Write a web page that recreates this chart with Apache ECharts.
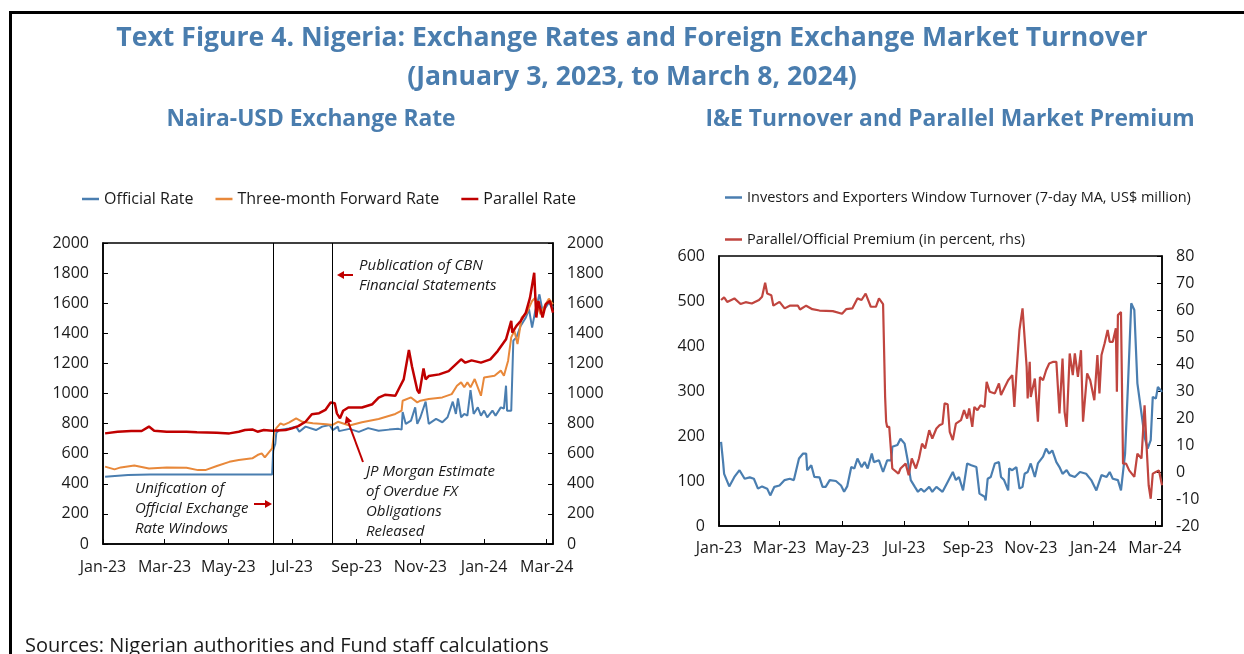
<!DOCTYPE html>
<html>
<head>
<meta charset="utf-8">
<style>
  html, body { margin: 0; padding: 0; background: #fff; }
  #chart { width: 1244px; height: 654px; }
</style>
<script src="https://cdn.jsdelivr.net/npm/echarts@6.0.0/dist/echarts.min.js"></script>
</head>
<body>
<div id="chart"></div>
<script>
// ---- data (date, value) ----
var officialRate = [
  ['2023-01-03', 447], ['2023-01-25', 458], ['2023-02-15', 461], ['2023-06-12', 462], ['2023-06-13', 620],
  ['2023-06-14', 645], ['2023-06-15', 665], ['2023-06-16', 740], ['2023-06-19', 757], ['2023-06-20', 757],
  ['2023-06-28', 768], ['2023-07-05', 780], ['2023-07-08', 746], ['2023-07-14', 780], ['2023-07-24', 757],
  ['2023-07-30', 780], ['2023-08-06', 791], ['2023-08-09', 757], ['2023-08-14', 780], ['2023-08-15', 750],
  ['2023-08-25', 765], ['2023-09-03', 745], ['2023-09-12', 770], ['2023-09-22', 752], ['2023-10-02', 760],
  ['2023-10-11', 765], ['2023-10-14', 760], ['2023-10-15', 877], ['2023-10-18', 798], ['2023-10-23', 820],
  ['2023-10-27', 908], ['2023-10-29', 798], ['2023-11-01', 842], ['2023-11-06', 946], ['2023-11-09', 798],
  ['2023-11-16', 831], ['2023-11-22', 809], ['2023-11-27', 842], ['2023-12-02', 946], ['2023-12-05', 864],
  ['2023-12-07', 968], ['2023-12-10', 842], ['2023-12-13', 864], ['2023-12-16', 853], ['2023-12-19', 1023],
  ['2023-12-22', 864], ['2023-12-26', 908], ['2023-12-29', 853], ['2024-01-01', 886], ['2024-01-04', 842],
  ['2024-01-09', 886], ['2024-01-12', 853], ['2024-01-17', 908], ['2024-01-20', 900], ['2024-01-22', 1052],
  ['2024-01-23', 886], ['2024-01-27', 886], ['2024-01-29', 1351], ['2024-02-01', 1373], ['2024-02-05', 1449],
  ['2024-02-10', 1505], ['2024-02-13', 1560], ['2024-02-16', 1438], ['2024-02-19', 1549], ['2024-02-23', 1659],
  ['2024-02-26', 1549], ['2024-02-29', 1571], ['2024-03-03', 1604], ['2024-03-07', 1571]
];
var forwardRate = [
  ['2023-01-03', 514], ['2023-01-12', 496], ['2023-01-18', 509], ['2023-01-31', 522], ['2023-02-14', 502],
  ['2023-03-03', 509], ['2023-03-22', 507], ['2023-04-02', 491], ['2023-04-09', 491], ['2023-04-20', 518],
  ['2023-05-02', 546], ['2023-05-11', 558], ['2023-05-24', 569], ['2023-05-29', 591], ['2023-06-02', 602],
  ['2023-06-05', 575], ['2023-06-12', 635], ['2023-06-14', 745], ['2023-06-16', 770], ['2023-06-20', 802],
  ['2023-06-23', 791], ['2023-06-28', 806], ['2023-07-05', 835], ['2023-07-11', 812], ['2023-07-21', 802],
  ['2023-08-03', 795], ['2023-08-09', 791], ['2023-08-14', 812], ['2023-08-25', 787], ['2023-09-06', 809],
  ['2023-09-22', 831], ['2023-10-08', 864], ['2023-10-14', 886], ['2023-10-15', 952], ['2023-10-23', 974],
  ['2023-10-29', 941], ['2023-11-01', 952], ['2023-11-09', 963], ['2023-11-22', 974], ['2023-12-01', 996],
  ['2023-12-06', 1052], ['2023-12-10', 1074], ['2023-12-13', 1041], ['2023-12-16', 1074], ['2023-12-19', 1041],
  ['2023-12-23', 1096], ['2023-12-29', 985], ['2024-01-01', 1107], ['2024-01-11', 1118], ['2024-01-17', 1152],
  ['2024-01-20', 1118], ['2024-01-24', 1218], ['2024-01-27', 1373], ['2024-01-30', 1417], ['2024-02-02', 1329],
  ['2024-02-06', 1505], ['2024-02-11', 1537], ['2024-02-16', 1615], ['2024-02-19', 1637], ['2024-02-24', 1527],
  ['2024-02-28', 1582], ['2024-03-03', 1630], ['2024-03-07', 1593]
];
var parallelRate = [
  ['2023-01-03', 735], ['2023-01-15', 746], ['2023-01-28', 751], ['2023-02-07', 751], ['2023-02-14', 780],
  ['2023-02-19', 753], ['2023-03-03', 746], ['2023-03-22', 746], ['2023-04-01', 742], ['2023-04-20', 740],
  ['2023-05-02', 735], ['2023-05-11', 746], ['2023-05-17', 757], ['2023-05-24', 761], ['2023-05-29', 746],
  ['2023-06-04', 757], ['2023-06-12', 753], ['2023-06-25', 757], ['2023-07-01', 768], ['2023-07-07', 783],
  ['2023-07-14', 812], ['2023-07-20', 862], ['2023-07-27', 869], ['2023-08-02', 891], ['2023-08-07', 940],
  ['2023-08-11', 935], ['2023-08-13', 868], ['2023-08-16', 835], ['2023-08-19', 885], ['2023-08-24', 907],
  ['2023-09-06', 907], ['2023-09-16', 929], ['2023-09-22', 973], ['2023-09-28', 991], ['2023-10-08', 985],
  ['2023-10-12', 1040], ['2023-10-16', 1094], ['2023-10-21', 1289], ['2023-10-24', 1178], ['2023-10-29', 1023],
  ['2023-10-31', 1001], ['2023-11-04', 1167], ['2023-11-06', 1094], ['2023-11-09', 1116], ['2023-11-19', 1127],
  ['2023-11-28', 1149], ['2023-12-10', 1227], ['2023-12-14', 1205], ['2023-12-20', 1220], ['2023-12-29', 1205],
  ['2024-01-07', 1227], ['2024-01-14', 1282], ['2024-01-22', 1360], ['2024-01-27', 1482], ['2024-01-28', 1404],
  ['2024-02-01', 1449], ['2024-02-05', 1482], ['2024-02-10', 1537], ['2024-02-14', 1637], ['2024-02-18', 1802],
  ['2024-02-20', 1505], ['2024-02-22', 1615], ['2024-02-26', 1505], ['2024-02-29', 1593], ['2024-03-04', 1615],
  ['2024-03-07', 1537]
];
var ieTurnover = [
  ['2023-01-03', 187], ['2023-01-05', 142], ['2023-01-06', 116], ['2023-01-11', 88], ['2023-01-16', 109],
  ['2023-01-21', 124], ['2023-01-26', 105], ['2023-01-31', 108], ['2023-02-04', 105], ['2023-02-08', 83],
  ['2023-02-12', 88], ['2023-02-17', 83], ['2023-02-20', 68], ['2023-02-24', 87], ['2023-03-01', 90],
  ['2023-03-06', 102], ['2023-03-11', 105], ['2023-03-15', 102], ['2023-03-20', 150], ['2023-03-24', 161],
  ['2023-03-27', 161], ['2023-03-28', 124], ['2023-04-01', 135], ['2023-04-04', 109], ['2023-04-09', 108],
  ['2023-04-12', 87], ['2023-04-15', 87], ['2023-04-19', 102], ['2023-04-25', 100], ['2023-04-30', 90],
  ['2023-05-03', 76], ['2023-05-06', 88], ['2023-05-10', 131], ['2023-05-13', 128], ['2023-05-16', 150],
  ['2023-05-20', 131], ['2023-05-23', 142], ['2023-05-26', 128], ['2023-05-30', 161], ['2023-06-01', 142],
  ['2023-06-06', 146], ['2023-06-10', 120], ['2023-06-14', 146], ['2023-06-18', 146], ['2023-06-19', 176],
  ['2023-06-24', 180], ['2023-06-27', 194], ['2023-07-01', 183], ['2023-07-04', 146], ['2023-07-07', 102],
  ['2023-07-11', 87], ['2023-07-14', 76], ['2023-07-17', 83], ['2023-07-20', 76], ['2023-07-25', 87],
  ['2023-07-28', 76], ['2023-08-01', 87], ['2023-08-07', 76], ['2023-08-12', 98], ['2023-08-17', 120],
  ['2023-08-20', 102], ['2023-08-23', 109], ['2023-08-27', 79], ['2023-08-31', 139], ['2023-09-04', 135],
  ['2023-09-09', 131], ['2023-09-12', 72], ['2023-09-17', 65], ['2023-09-18', 57], ['2023-09-20', 105],
  ['2023-09-23', 109], ['2023-09-27', 139], ['2023-10-01', 142], ['2023-10-03', 109], ['2023-10-06', 102],
  ['2023-10-10', 79], ['2023-10-11', 128], ['2023-10-14', 124], ['2023-10-18', 131], ['2023-10-21', 83],
  ['2023-10-24', 87], ['2023-10-26', 116], ['2023-10-29', 120], ['2023-11-01', 139], ['2023-11-05', 109],
  ['2023-11-08', 139], ['2023-11-13', 154], ['2023-11-16', 172], ['2023-11-19', 161], ['2023-11-22', 168],
  ['2023-11-26', 142], ['2023-11-29', 131], ['2023-12-02', 116], ['2023-12-06', 124], ['2023-12-09', 113],
  ['2023-12-14', 109], ['2023-12-19', 120], ['2023-12-25', 116], ['2023-12-30', 102], ['2024-01-04', 79],
  ['2024-01-09', 113], ['2024-01-14', 109], ['2024-01-17', 120], ['2024-01-20', 105], ['2024-01-25', 102],
  ['2024-01-28', 79], ['2024-02-01', 161], ['2024-02-04', 324], ['2024-02-07', 495], ['2024-02-10', 480],
  ['2024-02-13', 317], ['2024-02-17', 250], ['2024-02-20', 198], ['2024-02-23', 172], ['2024-02-26', 191],
  ['2024-02-28', 287], ['2024-03-02', 283], ['2024-03-04', 309], ['2024-03-08', 298]
];
var premium = [
  ['2023-01-03', 63.7], ['2023-01-06', 64.7], ['2023-01-09', 63.0], ['2023-01-16', 64.3], ['2023-01-22', 62.2],
  ['2023-01-27', 62.9], ['2023-02-02', 62.4], ['2023-02-09', 63.7], ['2023-02-12', 64.9], ['2023-02-15', 70.1],
  ['2023-02-17', 66.1], ['2023-02-21', 65.5], ['2023-02-23', 61.6], ['2023-03-01', 63.0], ['2023-03-06', 60.6],
  ['2023-03-11', 61.6], ['2023-03-19', 61.6], ['2023-03-21', 60.2], ['2023-03-27', 61.6], ['2023-04-02', 60.3],
  ['2023-04-09', 59.8], ['2023-04-22', 59.6], ['2023-05-01', 58.6], ['2023-05-05', 60.3], ['2023-05-11', 60.6],
  ['2023-05-16', 64.3], ['2023-05-20', 63.7], ['2023-05-24', 66.1], ['2023-05-29', 61.2], ['2023-06-03', 61.2],
  ['2023-06-06', 64.3], ['2023-06-10', 62.2], ['2023-06-12', 27.8], ['2023-06-13', 18.6], ['2023-06-14', 16.7],
  ['2023-06-16', 16.7], ['2023-06-19', 1.3], ['2023-06-25', -0.6], ['2023-06-27', 1.3], ['2023-07-02', 3.1],
  ['2023-07-05', -1.2], ['2023-07-08', 5.0], ['2023-07-12', 1.3], ['2023-07-15', 5.0], ['2023-07-18', 10.5],
  ['2023-07-21', 8.7], ['2023-07-25', 15.5], ['2023-07-28', 12.4], ['2023-08-01', 16.1], ['2023-08-04', 17.3],
  ['2023-08-07', 17.9], ['2023-08-09', 25.4], ['2023-08-12', 25.1], ['2023-08-14', 14.9], ['2023-08-17', 11.8],
  ['2023-08-20', 17.9], ['2023-08-25', 19.2], ['2023-08-28', 22.9], ['2023-08-31', 19.8], ['2023-09-02', 23.5],
  ['2023-09-05', 16.7], ['2023-09-07', 24.1], ['2023-09-10', 22.9], ['2023-09-13', 24.7], ['2023-09-17', 24.1],
  ['2023-09-19', 33.4], ['2023-09-22', 29.7], ['2023-09-27', 29.1], ['2023-10-01', 32.8], ['2023-10-03', 28.5],
  ['2023-10-06', 30.9], ['2023-10-10', 34.0], ['2023-10-14', 35.9], ['2023-10-16', 24.1], ['2023-10-18', 36.5],
  ['2023-10-21', 52.6], ['2023-10-24', 60.6], ['2023-10-28', 39.0], ['2023-10-29', 27.2], ['2023-10-31', 40.8],
  ['2023-11-01', 27.8], ['2023-11-05', 34.6], ['2023-11-08', 18.6], ['2023-11-10', 35.2], ['2023-11-13', 34.0],
  ['2023-11-16', 37.7], ['2023-11-19', 40.2], ['2023-11-23', 40.8], ['2023-11-26', 40.8], ['2023-11-29', 21.7],
  ['2023-12-02', 42.0], ['2023-12-04', 22.3], ['2023-12-06', 16.7], ['2023-12-09', 43.9], ['2023-12-12', 35.9],
  ['2023-12-14', 43.9], ['2023-12-17', 35.2], ['2023-12-20', 45.1], ['2023-12-22', 18.6], ['2023-12-26', 36.5],
  ['2023-12-29', 34.0], ['2024-01-02', 26.6], ['2024-01-05', 43.3], ['2024-01-07', 29.1], ['2024-01-09', 43.3],
  ['2024-01-12', 47.6], ['2024-01-15', 52.6], ['2024-01-17', 48.2], ['2024-01-20', 48.2], ['2024-01-23', 53.2],
  ['2024-01-24', 29.7], ['2024-01-25', 58.1], ['2024-01-28', 59.3], ['2024-01-30', 3.1], ['2024-02-02', 3.1],
  ['2024-02-05', 0.6], ['2024-02-10', -1.8], ['2024-02-13', 6.8], ['2024-02-17', 5.0], ['2024-02-20', 24.7],
  ['2024-02-22', 9.3], ['2024-02-24', -4.9], ['2024-02-26', -9.9], ['2024-02-28', -0.6], ['2024-03-02', 0.0],
  ['2024-03-05', 0.6], ['2024-03-08', -4.9]
];
var monthTicks = ['2023-01-01', '2023-03-01', '2023-05-01', '2023-07-01', '2023-09-01', '2023-11-01', '2024-01-01', '2024-03-01'];
var eventDates = ['2023-06-13', '2023-08-09'];

// ---- helpers ----
function ts(s) {
    var p = s.split('-');
    return new Date(+p[0], +p[1] - 1, +p[2]).getTime();
}
function toXY(arr) {
    return arr.map(function (p) { return [ts(p[0]), p[1]]; });
}
var MONS = ['Jan', 'Feb', 'Mar', 'Apr', 'May', 'Jun', 'Jul', 'Aug', 'Sep', 'Oct', 'Nov', 'Dec'];
function monthLabel(v) {
    var d = new Date(v);
    return MONS[d.getMonth()] + '-' + String(d.getFullYear()).slice(2);
}
var tickTs = monthTicks.map(ts);

var FONT = 'Open Sans';
var TITLE_COLOR = '#4A7DAE';
var TEXT = '#1a1a1a';
var RED_ARROW = '#C00000';

// dates are plotted on a value axis (ms timestamps) so ticks can sit on the 1st of every other month
function dateAxis(gridIndex, maxDate, margin) {
    return {
        type: 'value', gridIndex: gridIndex,
        min: ts('2023-01-01'), max: ts(maxDate),
        axisLine: { show: true, onZero: false, lineStyle: { color: '#000', width: 1.5 } },
        axisTick: { show: true, inside: true, length: 5, customValues: tickTs, lineStyle: { color: '#000' } },
        axisLabel: { customValues: tickTs, formatter: monthLabel, color: TEXT, fontSize: 16, fontFamily: FONT, margin: margin },
        splitLine: { show: false }
    };
}
function valAxis(gridIndex, pos, min, max, step, showTick) {
    return {
        type: 'value', gridIndex: gridIndex, position: pos,
        min: min, max: max, interval: step,
        axisLine: { show: true, onZero: false, lineStyle: { color: '#000', width: 1.5 } },
        axisTick: { show: showTick, inside: true, length: 5, lineStyle: { color: '#000' } },
        axisLabel: { color: TEXT, fontSize: 16, fontFamily: FONT, margin: 14, formatter: function (v) { return String(v); } },
        splitLine: { show: false }
    };
}
function lineSeries(name, data, color, xi, yi, width) {
    return {
        name: name, type: 'line', data: toXY(data), xAxisIndex: xi, yAxisIndex: yi,
        showSymbol: false, symbol: 'none', smooth: false,
        lineStyle: { color: color, width: width || 2 },
        itemStyle: { color: color }, z: 3
    };
}
function txt(x, y, lines) {
    return {
        type: 'text', x: x, y: y, z: 10,
        style: { text: lines, fill: TEXT, font: 'italic 15px "' + FONT + '"', lineHeight: 20 }
    };
}
function arrow(x1, y1, x2, y2) {
    // line plus a small head at (x2, y2)
    var a = Math.atan2(y2 - y1, x2 - x1), L = 7, W = 4;
    var bx = x2 - L * Math.cos(a), by = y2 - L * Math.sin(a);
    return [
        { type: 'line', z: 10, shape: { x1: x1, y1: y1, x2: bx, y2: by }, style: { stroke: RED_ARROW, lineWidth: 2 } },
        { type: 'polygon', z: 10, shape: { points: [[x2, y2], [bx + W * Math.sin(a), by - W * Math.cos(a)], [bx - W * Math.sin(a), by + W * Math.cos(a)]] }, style: { fill: RED_ARROW } }
    ];
}

var dom = document.getElementById('chart');
var myChart = echarts.init(dom, null, { renderer: 'canvas' });

var graphics = [
    // frame
    { type: 'line', shape: { x1: 10, y1: 12.5, x2: 1244, y2: 12.5 }, style: { stroke: '#000', lineWidth: 3 } },
    { type: 'line', shape: { x1: 10.5, y1: 11, x2: 10.5, y2: 654 }, style: { stroke: '#000', lineWidth: 3 } },
    // titles
    { type: 'text', x: 632, y: 25, style: { text: 'Text Figure 4. Nigeria: Exchange Rates and Foreign Exchange Market Turnover', fill: TITLE_COLOR, font: 'bold 26.6px "' + FONT + '"', textAlign: 'center' } },
    { type: 'text', x: 632, y: 64, style: { text: '(January 3, 2023, to March 8, 2024)', fill: TITLE_COLOR, font: 'bold 26.6px "' + FONT + '"', textAlign: 'center' } },
    { type: 'text', x: 311, y: 108, style: { text: 'Naira-USD Exchange Rate', fill: TITLE_COLOR, font: 'bold 22.8px "' + FONT + '"', textAlign: 'center' } },
    { type: 'text', x: 950, y: 108, style: { text: 'I&E Turnover and Parallel Market Premium', fill: TITLE_COLOR, font: 'bold 22.8px "' + FONT + '"', textAlign: 'center' } },
    // annotations
    txt(359, 256, 'Publication of CBN\nFinancial Statements'),
    txt(135, 479, 'Unification of\nOfficial Exchange\nRate Windows'),
    txt(366, 462, 'JP Morgan Estimate\nof Overdue FX\nObligations\nReleased'),
    // sources
    { type: 'text', x: 25, y: 636, style: { text: 'Sources: Nigerian authorities and Fund staff calculations', fill: TEXT, font: '20px "' + FONT + '"' } }
];
graphics = graphics.concat(arrow(353, 275, 337, 275), arrow(254, 504, 272, 504), arrow(363, 462, 346, 416));

var option = {
    animation: false,
    backgroundColor: '#fff',
    textStyle: { fontFamily: FONT },
    legend: [
        {
            data: ['Official Rate', 'Three-month Forward Rate', 'Parallel Rate'],
            left: 82, top: 191, padding: 0, icon: 'rect', itemWidth: 17, itemHeight: 2.5, itemGap: 22,
            textStyle: { fontSize: 16, color: TEXT, fontFamily: FONT }
        },
        {
            data: ['Investors and Exporters Window Turnover (7-day MA, US$ million)'],
            left: 725, top: 190, padding: 0, icon: 'rect', itemWidth: 17, itemHeight: 2.5,
            textStyle: { fontSize: 14.5, color: TEXT, fontFamily: FONT }
        },
        {
            data: ['Parallel/Official Premium (in percent, rhs)'],
            left: 725, top: 232, padding: 0, icon: 'rect', itemWidth: 17, itemHeight: 2.5,
            textStyle: { fontSize: 14.5, color: TEXT, fontFamily: FONT }
        }
    ],
    grid: [
        { left: 103, top: 243, width: 450, height: 301, show: true, borderColor: '#000', borderWidth: 1.5, containLabel: false },
        { left: 719, top: 256, width: 443, height: 270, show: true, borderColor: '#000', borderWidth: 1.5, containLabel: false }
    ],
    xAxis: [
        dateAxis(0, '2024-03-07', 15),
        dateAxis(1, '2024-03-08', 14)
    ],
    yAxis: [
        valAxis(0, 'left', 0, 2000, 200, true),
        valAxis(0, 'right', 0, 2000, 200, true),
        valAxis(1, 'left', 0, 600, 100, false),
        valAxis(1, 'right', -20, 80, 10, true)
    ],
    series: [
        lineSeries('Official Rate', officialRate, '#4A7EB0', 0, 0, 2),
        lineSeries('Three-month Forward Rate', forwardRate, '#E8883A', 0, 0, 2),
        Object.assign(lineSeries('Parallel Rate', parallelRate, '#C00000', 0, 0, 2.5), {
            markLine: {
                silent: true, symbol: 'none', label: { show: false },
                lineStyle: { color: '#000', width: 1, type: 'solid' },
                data: eventDates.map(function (d) { return { xAxis: ts(d) }; })
            }
        }),
        lineSeries('Investors and Exporters Window Turnover (7-day MA, US$ million)', ieTurnover, '#4A7EB0', 1, 2, 2.2),
        lineSeries('Parallel/Official Premium (in percent, rhs)', premium, '#C0453F', 1, 3, 2.2)
    ],
    graphic: graphics
};

if (option && typeof option === 'object') {
    myChart.setOption(option);
}
window.addEventListener('resize', myChart.resize);
</script>
</body>
</html>
